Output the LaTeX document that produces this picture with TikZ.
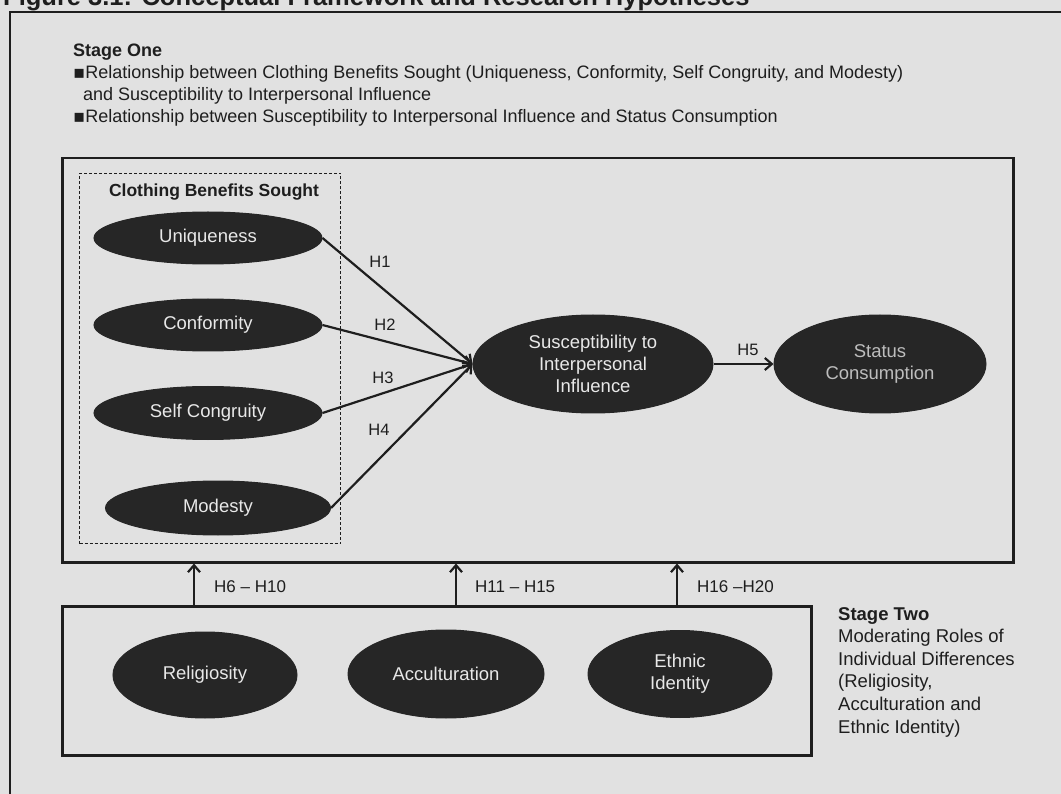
\documentclass[tikz,border=0pt]{standalone}
\usepackage{fontspec}
\setmainfont{Liberation Sans}
\newfontfamily\symfont{DejaVu Sans}
\usetikzlibrary{arrows.meta,shapes.geometric}
\definecolor{paper}{HTML}{E1E1E1}
\definecolor{ink}{HTML}{1E1E1E}
\definecolor{blob}{HTML}{262626}
\definecolor{blobtext}{HTML}{E8E8E8}
\definecolor{dimtext}{HTML}{BDBDBD}

\begin{document}
\begin{tikzpicture}[x=1pt,y=-1pt,
  frame/.style={draw=ink, line width=2.5pt, inner sep=0pt, rectangle},
  blob/.style={ellipse, fill=blob, draw=blob, line width=1pt, inner sep=0pt,
    text=blobtext, align=center, font=\fontsize{18.5}{22}\selectfont},
  link/.style={draw=ink, line width=2.2pt, -{Straight Barb[length=7pt,width=12pt]}},
  hyp/.style={font=\fontsize{16.5}{19}\selectfont, text=ink, inner sep=0pt},
  body/.style={font=\fontsize{18.5}{23}\selectfont, text=ink, align=left, inner sep=0pt},
]
\useasboundingbox (0,0) rectangle (1061,794);
\fill[paper] (0,0) rectangle (1061,794);
\clip (0,0) rectangle (1061,794);

% caption and page frame
\node[anchor=base west, inner sep=0pt, text=ink,
  font=\bfseries\fontsize{25.5}{30}\selectfont] (title) at (3,6)
  {Figure 3.1: Conceptual Framework and Research Hypotheses};
\node[draw=ink, line width=1.6pt, rectangle, inner sep=0pt, anchor=north west,
  minimum width=1100, minimum height=820] (page) at (9,11) {};

% stage one description
\node[body, font=\fontsize{18}{22}\selectfont, anchor=north west] (st1) at (73,44)
  {\textbf{Stage One}\\
   {\symfont ▪}Relationship between Clothing Benefits Sought (Uniqueness, Conformity, Self Congruity, and Modesty)\\
   \hspace*{0.55em}and Susceptibility to Interpersonal Influence\\
   {\symfont ▪}Relationship between Susceptibility to Interpersonal Influence and Status Consumption};

% stage one model
\node[frame, anchor=north west, minimum width=951, minimum height=404] (s1) at (61,157) {};
\node[draw=ink, dash pattern=on 3pt off 2pt, line width=1pt, rectangle, inner sep=0pt,
  anchor=north west, minimum width=261, minimum height=370] (cbs) at (79,173) {};
\node[inner sep=0pt, text=ink, font=\bfseries\fontsize{17.5}{20}\selectfont] (cbslab) at (214,192)
  {Clothing Benefits Sought};

\node[blob, minimum width=228, minimum height=52] (uniq) at (208,238) {Uniqueness};
\node[blob, minimum width=228, minimum height=52] (conf) at (208,325) {Conformity};
\node[blob, minimum width=228, minimum height=53] (selfc) at (208,413) {Self Congruity};
\node[blob, minimum width=225, minimum height=54] (mod) at (218,508) {Modesty};
\node[blob, minimum width=240, minimum height=98] (sii) at (593,364)
  {Susceptibility to\\Interpersonal\\Influence};
\node[blob, minimum width=212, minimum height=98, text=dimtext] (sc) at (880,364)
  {Status\\Consumption};

\draw[link] (uniq.east) -- (sii.west);
\draw[link] (conf.east) -- (sii.west);
\draw[link] (selfc.east) -- (sii.west);
\draw[link] (mod.east) -- (sii.west);
\draw[link] (sii.east) -- (sc.west);

\node[hyp] (h1) at (380,262) {H1};
\node[hyp] (h2) at (385,325) {H2};
\node[hyp] (h3) at (383,378) {H3};
\node[hyp] (h4) at (379,430) {H4};
\node[hyp] (h5) at (748,350) {H5};

% stage two model
\node[frame, anchor=north west, minimum width=749, minimum height=149] (s2) at (61,605) {};
\node[blob, minimum width=184, minimum height=86] (rel) at (205,675) {Religiosity};
\node[blob, minimum width=196, minimum height=88] (acc) at (446,674) {Acculturation};
\node[blob, minimum width=184, minimum height=87] (eth) at (680,674) {Ethnic\\Identity};

\coordinate (m1) at (194,605);
\coordinate (m2) at (456,605);
\coordinate (m3) at (677,605);
\draw[link] (m1) -- (m1 |- s1.south);
\draw[link] (m2) -- (m2 |- s1.south);
\draw[link] (m3) -- (m3 |- s1.south);
\node[hyp, anchor=west, font=\fontsize{17}{20}\selectfont] (h610) at (214,587) {H6 – H10};
\node[hyp, anchor=west, font=\fontsize{17}{20}\selectfont] (h1115) at (475,587) {H11 – H15};
\node[hyp, anchor=west, font=\fontsize{17}{20}\selectfont] (h1620) at (697,587) {H16 –H20};

\node[body, font=\fontsize{18.5}{22.6}\selectfont, anchor=north west] (st2) at (838,607)
  {\textbf{Stage Two}\\Moderating Roles of\\Individual Differences\\(Religiosity,\\Acculturation and\\Ethnic Identity)};
\end{tikzpicture}
\end{document}
